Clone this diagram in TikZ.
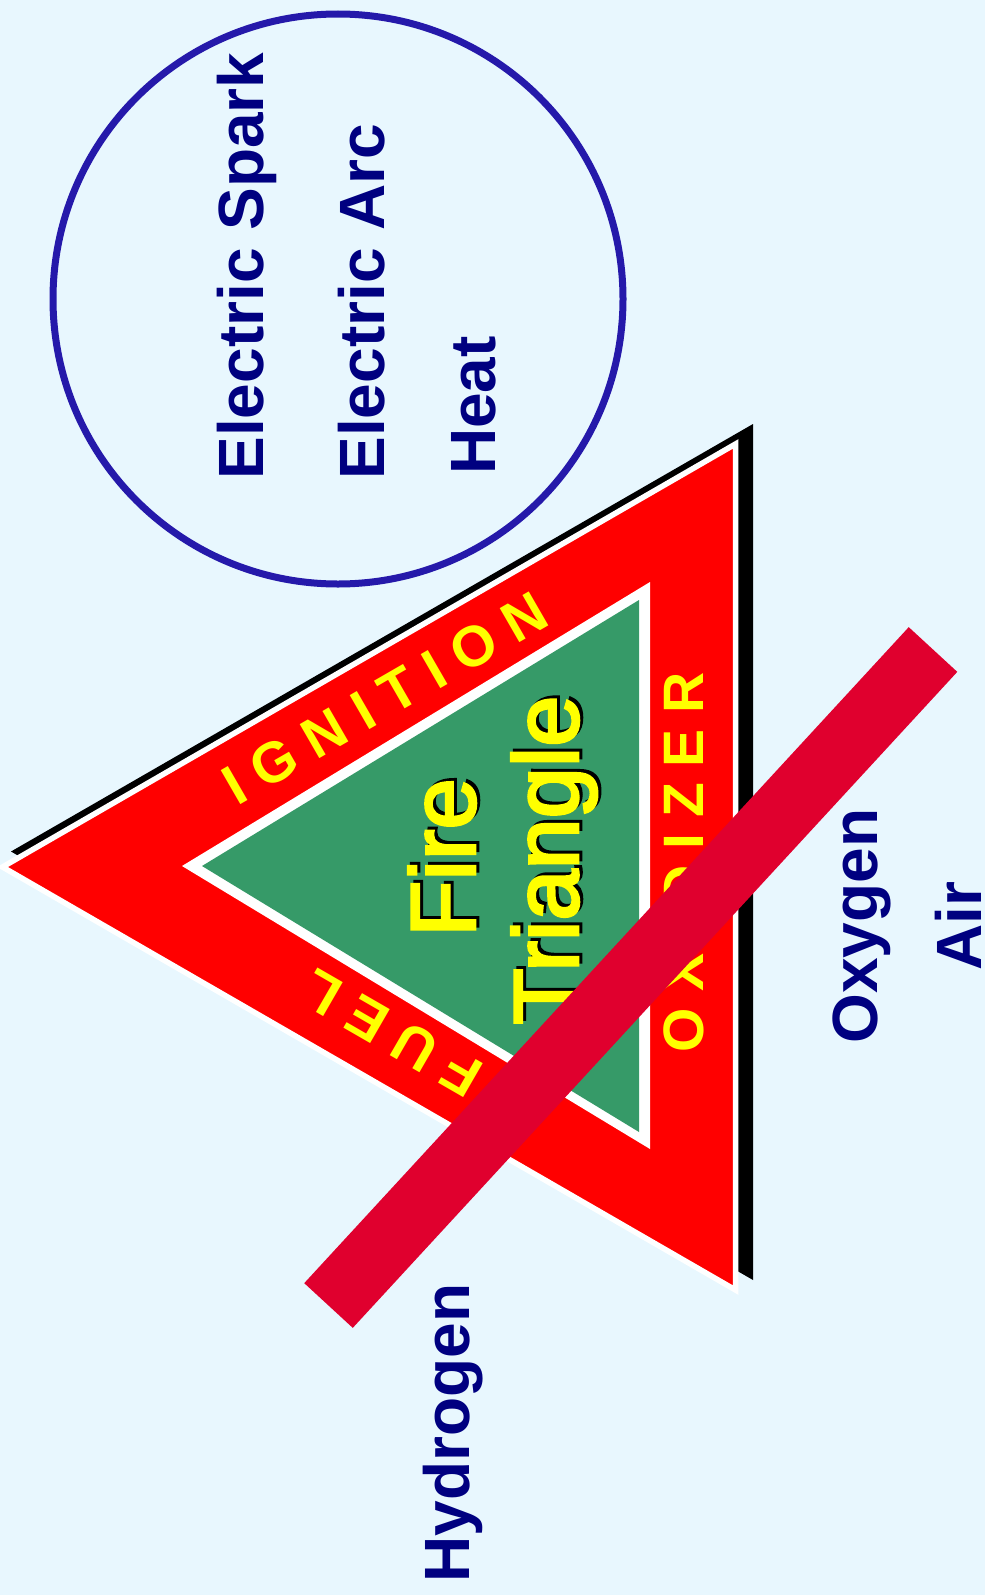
\documentclass[tikz,border=0pt]{standalone}
\usepackage{fontspec}
\setmainfont{Liberation Sans}
\newfontfamily\titlefont[FakeBold=3]{Liberation Sans}
\definecolor{bgblue}{RGB}{232,247,254}
\definecolor{ringblue}{RGB}{37,25,170}
\definecolor{navytext}{RGB}{0,0,128}
\definecolor{firered}{RGB}{255,0,0}
\definecolor{firegreen}{RGB}{54,154,104}
\definecolor{fireyellow}{RGB}{255,255,0}
\definecolor{barred}{RGB}{224,0,46}
\begin{document}
\begin{tikzpicture}[x=1pt,y=-1pt,
  navytxt/.style={text=navytext,font=\fontsize{64}{70}\selectfont\bfseries,inner sep=0pt,rotate=90},
  sidetxt/.style={text=fireyellow,font=\fontsize{57}{64}\selectfont\bfseries,inner sep=0pt,anchor=center},
  bigtxt/.style={font=\titlefont\fontsize{92}{98}\selectfont,inner sep=0pt,rotate=90,anchor=base},
  barstyle/.style={draw=barred,line width=66pt,line cap=butt}]
\useasboundingbox (0,0) rectangle (985,1595);
\fill[bgblue] (0,0) rectangle (985,1595);
% ignition circle
\coordinate (cc) at (338,299);
\draw[ringblue,line width=7pt] (cc) circle[radius=285pt];
\node[navytxt,anchor=base west] (spark) at (263,479.7) {Electric Spark};
\node[navytxt,anchor=base west] (arc) at (384.5,479.7) {Electric Arc};
\node[navytxt,anchor=base west] (heat) at (495,475) {Heat};
% triangle: shadow, red band, white and green core
\fill[black] (11,851.5) -- (753,424) -- (753,1280) -- cycle;
\filldraw[fill=firered,draw=white,line width=5.5pt,line join=miter] (2.5,867) -- (735.5,444) -- (735.5,1290) -- cycle;
\fill[white] (182,866) -- (650,582) -- (650,1149) -- cycle;
\fill[firegreen] (202,866) -- (639,600) -- (639,1132) -- cycle;
% side labels
\node[sidetxt,rotate=30] (ign) at (385,698) {I G N I T I O N};
\node[sidetxt,rotate=150] (fuel) at (392,1033) {F U E L};
\node[sidetxt,rotate=90] (oxi) at (684,862) {O X I D I Z E R};
% centre title with shadow
\node[bigtxt,text=black] (fireS) at (478,854.5) {Fire};
\node[bigtxt,text=fireyellow] (fire) at (475,857.5) {Fire};
\node[bigtxt,text=black] (triS) at (581,857) {Triangle};
\node[bigtxt,text=fireyellow] (tri) at (578,860) {Triangle};
% outside labels
\node[navytxt,anchor=base] (oxy) at (877,926) {Oxygen};
\node[navytxt,anchor=base] (air) at (981,926) {Air};
\node[navytxt,anchor=base west] (hyd) at (469.3,1582.7) {Hydrogen};
% crossing bar
\coordinate (barS) at (328.5,1305.5);
\coordinate (barN) at (933,649.5);
\draw[barstyle] (barS) -- (barN);
\end{tikzpicture}
\end{document}
